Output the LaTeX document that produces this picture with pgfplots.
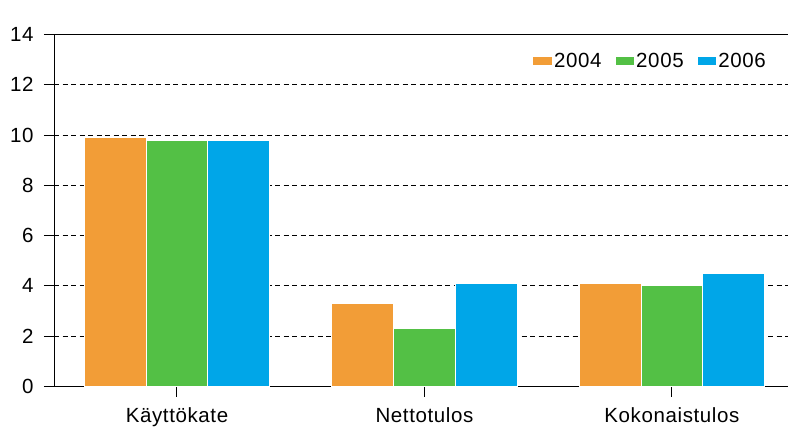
\documentclass[border=0pt]{standalone}
\usepackage{fontspec}
\setmainfont{Liberation Sans}[LetterSpace=3]
\usepackage{pgfplots}
\pgfplotsset{compat=1.18}
\definecolor{c2004}{RGB}{242,157,55}
\definecolor{c2005}{RGB}{83,192,69}
\definecolor{c2006}{RGB}{0,166,232}
\newcommand{\chartfont}{\fontsize{20.5bp}{23bp}\selectfont}
\begin{document}
\begin{tikzpicture}
\useasboundingbox (-54bp,-43.4bp) rectangle (734bp,386.5bp);
\begin{axis}[
  at={(0,0)}, anchor=south west,
  scale only axis,
  width=734bp, height=352bp,
  xmin=-0.497, xmax=2.469,
  ymin=0, ymax=14,
  ytick={0,2,...,14},
  xtick={0,1,2},
  xticklabels={Käyttökate,Nettotulos,Kokonaistulos},
  axis y line*=left,
  axis x line*=bottom,
  axis line style={black, line width=1bp, -},
  tick style={black, line width=1bp},
  tick align=outside,
  major tick length=10bp,
  ymajorgrids,
  grid style={black, line width=0.9bp, dash pattern=on 5bp off 3.5bp},
  ticklabel style={font=\chartfont},
  /pgf/number format/assume math mode=true,
  yticklabel style={xshift=-7bp},
  xticklabel style={yshift=-8bp},
  ybar=0pt,
  bar width=61.7bp,
  legend columns=3,
  legend style={at={(rel axis cs:1,1)}, anchor=north east, xshift=-20bp, yshift=-16bp,
    draw=none, fill=none, font=\chartfont, inner sep=0pt,
    /tikz/every even column/.append style={column sep=12bp}},
  legend image code/.code={\fill[#1, draw=none] (0bp,-4bp) rectangle (18.7bp,4bp);},
]
\addplot[fill=c2004, draw=white, line width=1bp] coordinates {(0,9.9) (1,3.3) (2,4.1)};
\addplot[fill=c2005, draw=white, line width=1bp] coordinates {(0,9.8) (1,2.3) (2,4.0)};
\addplot[fill=c2006, draw=white, line width=1bp] coordinates {(0,9.8) (1,4.1) (2,4.5)};
\legend{2004,2005,2006}
\draw[black, line width=1bp] (rel axis cs:0,1) -- (rel axis cs:1,1);
\node[anchor=base west, inner sep=0pt, font=\chartfont] at (rel axis cs:0,1) [xshift=3bp, yshift=8bp] {Prosenttia liiketoiminnan tuotoista};
\end{axis}
\end{tikzpicture}
\end{document}
